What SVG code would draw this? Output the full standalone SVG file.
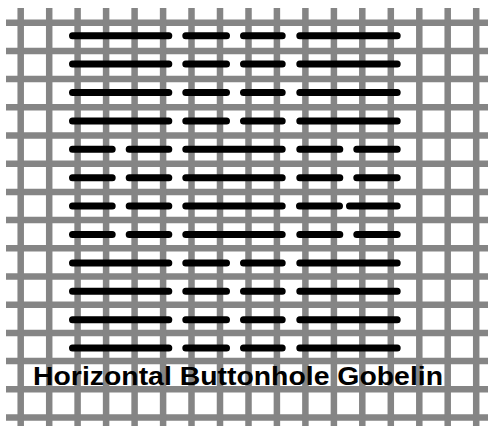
<svg xmlns="http://www.w3.org/2000/svg" width="488" height="426" viewBox="0 0 488 426">
<style>
.g{stroke:#858585;stroke-width:6.5;fill:none}
.s{stroke:#000;stroke-width:7;stroke-linecap:round;fill:none}
.t{font-family:"Liberation Sans",Arial,sans-serif;font-weight:bold;font-size:26px;fill:#000}
</style>
<rect width="488" height="426" fill="#fff"/>
<g id="grid">
<path class="g" d="M6,22.7H488M6,50.9H488M6,79.1H488M6,107.3H488M6,135.5H488M6,163.7H488M6,191.9H488M6,220.1H488M6,248.3H488M6,276.5H488M6,304.7H488M6,332.9H488M6,361.1H488M6,389.3H488M6,417.5H488"/>
<path class="g" d="M20.7,8V426M49.2,8V426M77.6,8V426M106.1,8V426M134.6,8V426M163.1,8V426M191.5,8V426M220,8V426M248.5,8V426M276.9,8V426M305.4,8V426M333.9,8V426M362.3,8V426M390.8,8V426M419.3,8V426M447.7,8V426M476.2,8V426"/>
</g>
<g id="stitches">
<path class="s" d="M72.5,35.7H168.8M185.8,35.7H226.5M243.5,35.7H282.2M299.8,35.7H397.2
M72.5,64.1H168.8M185.8,64.1H226.5M243.5,64.1H282.2M299.8,64.1H397.2
M72.5,92.5H168.8M185.8,92.5H226.5M243.5,92.5H282.2M299.8,92.5H397.2
M72.5,120.9H168.8M185.8,120.9H226.5M243.5,120.9H282.2M299.8,120.9H397.2
M72.5,149.3H112.2M129.2,149.3H168.8M185.8,149.3H282.2M299.8,149.3H339.8M356.8,149.3H397.2
M72.5,177.7H112.2M129.2,177.7H168.8M185.8,177.7H282.2M299.8,177.7H339.8M356.8,177.7H397.2
M72.5,206.1H112.2M129.2,206.1H168.8M185.8,206.1H282.2M299.5,206.1H339.5M349.5,206.1H397.2
M72.5,234.5H112.2M129.2,234.5H168.8M185.8,234.5H282.2M299.8,234.5H339.8M356.8,234.5H397.2
M72.5,262.9H168.8M185.8,262.9H226.5M243.5,262.9H282.2M299.8,262.9H397.2
M72.5,291.3H168.8M185.8,291.3H226.5M243.5,291.3H282.2M299.8,291.3H397.2
M72.5,319.7H168.8M185.8,319.7H226.5M243.5,319.7H282.2M299.8,319.7H397.2
M72.5,348.1H168.8M185.8,348.1H226.5M243.5,348.1H282.2M299.8,348.1H397.2"/>
</g>
<g id="title">
<text class="t" x="33" y="385" textLength="410" lengthAdjust="spacingAndGlyphs">Horizontal Buttonhole Gobelin</text>
</g>
</svg>
